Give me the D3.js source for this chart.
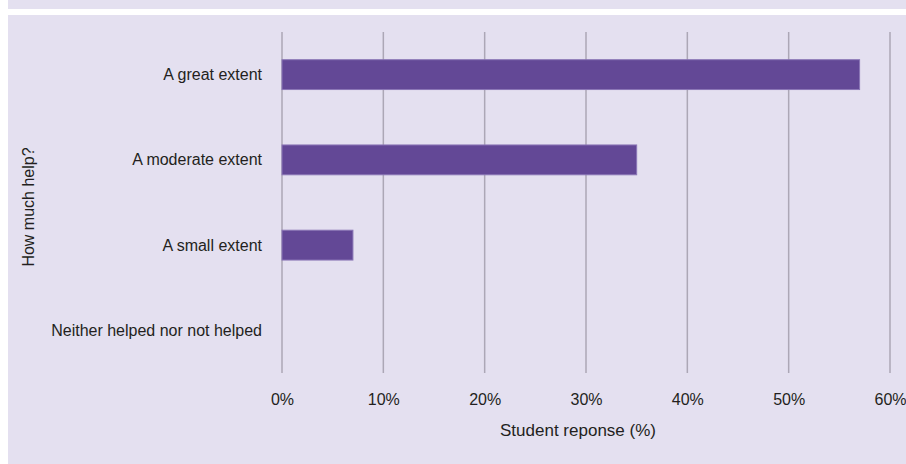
<!DOCTYPE html>
<html>
<head>
<meta charset="utf-8">
<script src="https://cdn.jsdelivr.net/npm/d3@7"></script>
<style>
  html, body { margin: 0; padding: 0; background: #ffffff; }
  svg { display: block; }
  text { font-family: "Liberation Sans", Arial, sans-serif; fill: #231f20; }
</style>
</head>
<body>
<div id="chart"></div>
<script>
// Responses to "How much help?"
const categories = ["A great extent", "A moderate extent", "A small extent", "Neither helped nor not helped"];
const values = [57, 35, 7, 0];
const tickValues = [0, 10, 20, 30, 40, 50, 60];
const xTitle = "Student reponse (%)";
const yTitle = "How much help?";

const W = 906, H = 464;
const plot = { left: 282, right: 890, top: 32, bottom: 373 };

const svg = d3.select("#chart").append("svg")
  .attr("width", W).attr("height", H);

// panel background with a thin white divider near the top
svg.append("rect").attr("x", 8).attr("y", 0).attr("width", W - 8).attr("height", 9).attr("fill", "#e4e0f0");
svg.append("rect").attr("x", 8).attr("y", 15).attr("width", W - 8).attr("height", H - 15).attr("fill", "#e4e0f0");

const x = d3.scaleLinear().domain([0, 60]).range([plot.left, plot.right]);
const y = d3.scaleBand().domain(categories).range([plot.top, plot.bottom]).paddingInner(0.65).paddingOuter(0.325);

// vertical gridlines
svg.append("g").selectAll("line").data(tickValues).join("line")
  .attr("x1", d => x(d)).attr("x2", d => x(d))
  .attr("y1", plot.top).attr("y2", plot.bottom)
  .attr("stroke", "#aca7b6").attr("stroke-width", 1.5);

// bars
svg.append("g").selectAll("rect").data(categories.map((c, i) => ({ c, v: values[i] })).filter(d => d.v > 0)).join("rect")
  .attr("x", x(0))
  .attr("y", d => y(d.c))
  .attr("width", d => x(d.v) - x(0))
  .attr("height", y.bandwidth())
  .attr("fill", "#634896")
  .attr("stroke", "#8a76b6").attr("stroke-width", 1);

// x axis tick labels
const xAxis = d3.axisBottom(x).tickValues(tickValues).tickFormat(d => d + "%").tickSize(0).tickPadding(0);
const gx = svg.append("g").attr("transform", `translate(0,${plot.bottom})`).call(xAxis);
gx.select(".domain").remove();
gx.selectAll("text").attr("font-size", 16).attr("font-family", null).attr("fill", "#231f20")
  .attr("dy", null).attr("y", 32);

// y axis category labels
const yAxis = d3.axisLeft(y).tickSize(0).tickPadding(0);
const gy = svg.append("g").attr("transform", `translate(262,0)`).call(yAxis);
gy.select(".domain").remove();
gy.selectAll("text").attr("font-size", 16).attr("font-family", null).attr("fill", "#231f20")
  .attr("dy", "0.35em");

// axis titles
svg.append("text").attr("x", 578).attr("y", 436).attr("text-anchor", "middle")
  .attr("font-size", 17).text(xTitle);
svg.append("text").attr("transform", "translate(33.5,207) rotate(-90)").attr("text-anchor", "middle")
  .attr("font-size", 16).text(yTitle);
</script>
</body>
</html>
